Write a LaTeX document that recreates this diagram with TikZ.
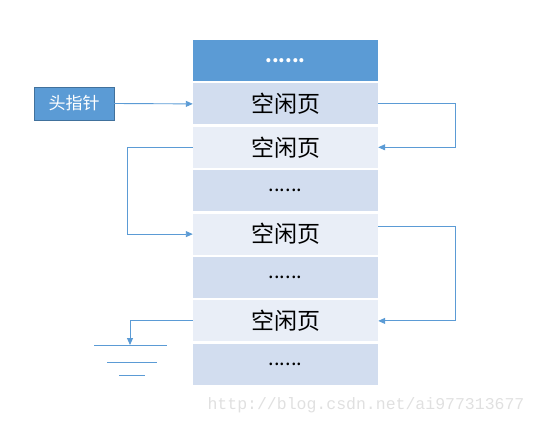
\documentclass[tikz,border=0pt]{standalone}
\usepackage{fontspec}
\usepackage{tikz}
\usetikzlibrary{arrows.meta, positioning}
\newfontfamily\cjk{Noto Sans CJK SC}
\newfontfamily\wmfont{Liberation Mono}
\definecolor{page_blue}{HTML}{5B9BD5}
\definecolor{page_dark}{HTML}{D2DDEF}
\definecolor{page_light}{HTML}{E9EEF7}
\definecolor{head_border}{HTML}{41719C}
\tikzset{
    page/.style={rectangle, minimum width=185pt, minimum height=41pt, inner sep=0pt, font=\cjk\fontsize{23}{23}\selectfont},
    darkpage/.style={page, fill=page_dark},
    lightpage/.style={page, fill=page_light},
    dotpage/.style={darkpage, font=\cjk\fontsize{20}{20}\selectfont},
    head/.style={rectangle, draw=head_border, fill=page_blue, text=white, minimum width=80pt, minimum height=33pt, inner sep=0pt, font=\cjk\fontsize{17}{17}\selectfont},
    link/.style={draw=page_blue, line width=0.9pt, -{Triangle[length=7pt, width=6pt]}},
    ground/.style={draw=page_blue, line width=0.9pt}
}

\begin{document}
\begin{tikzpicture}[x=1pt, y=-1pt, node distance=2pt]
        \useasboundingbox (0,0) rectangle (537,428);

        \node (top) [page, fill=page_blue, text=white, font=\cjk\bfseries\fontsize{19}{19}\selectfont] at (285.5, 60.5) {......};
        \node (free1) [darkpage, below=of top] {空闲页};
        \node (free2) [lightpage, below=of free1] {空闲页};
        \node (dots1) [dotpage, below=of free2] {......};
        \node (free3) [lightpage, below=of dots1] {空闲页};
        \node (dots2) [dotpage, below=of free3] {......};
        \node (free4) [lightpage, below=of dots2] {空闲页};
        \node (dots3) [dotpage, below=of free4] {......};

        \node (head) [head] at (74, 103.5) {头指针};
        \coordinate (gnd) at (130, 345);

        % Free list links
        \draw[link] (head.east) -- (free1.west);
        \draw[link] (free1.east) -- ++(77,0) |- (free2.east);
        \draw[link] (free2.west) -- ++(-65,0) |- (free3.west);
        \draw[link] ([yshift=7.5pt]free3.east) -- ++(77,0) |- (free4.east);
        \draw[link] (free4.west) -| (gnd);

        % Ground
        \draw[ground] ([xshift=-36pt]gnd) -- ([xshift=37pt]gnd);
        \draw[ground] ([xshift=-23pt, yshift=-17pt]gnd) -- ([xshift=27pt, yshift=-17pt]gnd);
        \draw[ground] ([xshift=-11pt, yshift=-30pt]gnd) -- ([xshift=15pt, yshift=-30pt]gnd);

        \node (mark) [font=\wmfont\fontsize{16.5}{16.5}\selectfont, text=black!12] at (366, 405) {http://blog.csdn.net/ai977313677};

    \end{tikzpicture}
\end{document}
